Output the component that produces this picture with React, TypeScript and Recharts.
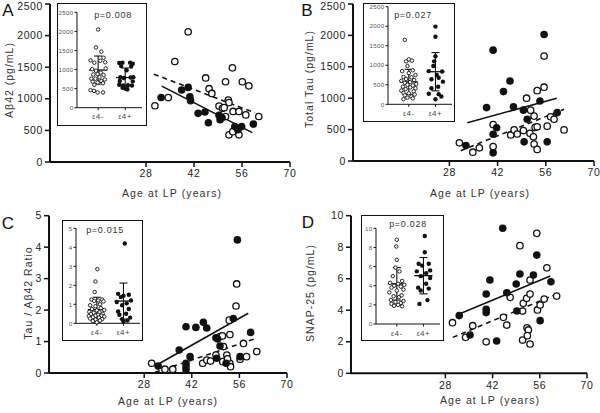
import React from 'react';
import { ScatterChart, Scatter, XAxis, YAxis, ReferenceLine } from 'recharts';

type Pair = [number, number];

const FONT = '"Liberation Sans", Arial, Helvetica, sans-serif';
const INK = '#111';

// ---------- main scatter panels: [age at LP, value] ----------
const ageTicks = [28, 42, 56, 70];

// A: Abeta42 (pg/mL)
const abetaTicks = [0, 500, 1000, 1500, 2000, 2500];
const abetaOpen: Pair[] = [
  [30.6, 890], [34.5, 1020], [36.4, 1590], [40.3, 2060], [45.4, 1330], [46.4, 1160],
  [47.2, 1085], [51.2, 1270], [53.2, 1490], [56.1, 1270], [58.0, 1205], [60.9, 720],
  [49.3, 885], [50.3, 850], [52.0, 980], [52.2, 940], [53.4, 800], [55.1, 800],
  [57.1, 745], [52.2, 430], [55.1, 430], [53.3, 480], [51.2, 720], [50.8, 860],
];
const abetaFilled: Pair[] = [
  [32.4, 1020], [38.4, 1140], [40.3, 1180], [40.8, 1030], [41.0, 970], [43.2, 770],
  [45.2, 790], [46.2, 620], [49.3, 740], [49.6, 670], [50.2, 700], [53.9, 560],
  [54.8, 510], [55.9, 560], [59.3, 600],
];
const abetaSolid: Pair[] = [[32.6, 1200], [59.0, 465]];
const abetaDashed: Pair[] = [[30.3, 1390], [59.8, 777]];

// B: Total Tau (pg/mL)
const tauTicks = [0, 500, 1000, 1500, 2000, 2500];
const tauOpen: Pair[] = [
  [30.9, 290], [34.8, 140], [36.7, 210], [40.7, 580], [40.7, 230], [45.8, 415],
  [46.8, 495], [47.7, 430], [49.5, 485], [50.4, 1000], [51.6, 810], [51.4, 440],
  [52.6, 715], [52.9, 535], [52.4, 385], [52.6, 270], [53.5, 185], [53.5, 1120],
  [53.5, 545], [55.5, 1175], [55.5, 1670], [56.4, 555], [57.4, 705], [58.4, 665],
  [61.3, 495],
];
const tauFilled: Pair[] = [
  [32.8, 245], [38.8, 850], [40.7, 1765], [41.7, 530], [40.7, 425], [40.7, 130],
  [43.7, 1105], [45.6, 1275], [46.6, 865], [49.5, 810], [49.7, 305], [50.6, 665],
  [54.3, 955], [55.5, 2015], [56.4, 305], [59.3, 770],
];
const tauSolid: Pair[] = [[33.2, 610], [59.2, 1000]];
const tauDashed: Pair[] = [[31.3, 165], [61.3, 825]];

// C: Tau / Abeta42 ratio
const ratioTicks = [0, 1, 2, 3, 4, 5];
const ratioOpen: Pair[] = [
  [30.2, 0.31], [34.1, 0.12], [36.4, 0.12], [45.2, 0.31], [46.4, 0.41], [47.5, 0.38],
  [49.1, 0.57], [50.3, 1.16], [51.0, 1.18], [51.3, 0.84], [51.1, 0.36], [52.3, 0.57],
  [53.2, 1.22], [53.0, 1.68], [53.2, 0.31], [53.4, 0.2], [55.0, 2.13], [55.2, 2.83],
  [56.2, 0.44], [57.2, 0.94], [58.1, 0.52], [61.1, 0.68], [52.5, 0.45],
];
const ratioFilled: Pair[] = [
  [32.1, 0.22], [38.3, 0.73], [40.3, 1.47], [41.5, 0.52], [40.3, 0.31], [40.3, 0.2],
  [40.3, 0.1], [43.2, 1.45], [45.4, 1.61], [46.4, 1.43], [49.1, 1.12], [49.6, 1.08],
  [50.3, 0.86], [49.3, 0.47], [54.2, 1.73], [55.4, 4.23], [56.2, 0.52], [59.3, 1.29],
  [52.1, 0.31],
];
const ratioSolid: Pair[] = [[32.6, 0.31], [58.6, 1.9]];
const ratioDashed: Pair[] = [[31.2, 0.02], [60.9, 1.1]];

// D: SNAP-25 (pg/mL)
const snapTicks = [0, 2, 4, 6, 8, 10];
const snapOpen: Pair[] = [
  [30.1, 3.21], [34.0, 2.28], [36.1, 3.02], [40.1, 2.0], [45.2, 3.55], [46.2, 3.06],
  [47.2, 4.82], [50.1, 8.1], [50.9, 3.95], [51.1, 4.44], [50.9, 2.11], [52.1, 4.76],
  [53.1, 5.92], [53.1, 5.03], [52.2, 2.89], [52.6, 2.75], [52.3, 2.39], [53.1, 1.86],
  [55.1, 8.88], [55.3, 4.02], [56.1, 4.33], [57.3, 4.71], [58.1, 6.69], [61.0, 4.9],
];
const snapFilled: Pair[] = [
  [32.1, 3.66], [35.3, 2.43], [41.2, 5.92], [40.1, 5.03], [40.1, 4.06], [40.1, 3.85],
  [43.2, 2.05], [45.0, 9.2], [46.2, 5.11], [49.0, 5.67], [50.1, 6.3], [49.2, 3.95],
  [54.1, 6.24], [55.1, 7.5], [56.1, 3.34], [59.3, 5.81],
];
const snapSolid: Pair[] = [[31.4, 3.7], [59.1, 6.17]];
const snapDashed: Pair[] = [[30.2, 2.28], [60.8, 5.01]];

// ---------- insets: [jitter around group, value], group 1 = e4-, 2 = e4+ ----------
const groups = [1, 2];

const abetaNeg: Pair[] = [
  [0.0, 2050], [-0.08, 1580], [0.12, 1470], [-0.28, 1240], [-0.14, 1180], [0.2, 1310],
  [0.26, 1190], [0.08, 1230], [0.28, 1030], [-0.22, 1010], [-0.08, 970], [0.1, 920],
  [-0.02, 880], [-0.18, 870], [0.2, 860], [0.05, 800], [-0.25, 760], [-0.1, 760],
  [0.25, 740], [0.12, 700], [-0.2, 680], [-0.02, 660], [0.18, 640], [-0.14, 600],
  [-0.28, 460], [-0.15, 440], [-0.02, 400], [0.18, 400],
];
const abetaPos: Pair[] = [
  [-0.22, 1170], [-0.1, 1180], [0.18, 1180], [0.28, 1150], [-0.15, 1090], [0.22, 1080],
  [0.05, 980], [-0.18, 800], [-0.05, 780], [0.2, 790], [0.3, 800], [-0.2, 700],
  [0.28, 690], [-0.22, 600], [-0.08, 580], [0.1, 590], [0.25, 580], [-0.1, 520],
  [0.08, 480], [0.0, 500],
];
const abetaMean = [987, 790];
const abetaSd = [367, 250];

const tauNeg: Pair[] = [
  [-0.15, 1650], [0.0, 1150], [0.12, 1120], [-0.1, 1100], [-0.05, 980], [0.15, 870],
  [-0.25, 850], [0.0, 800], [0.25, 750], [-0.2, 700], [0.1, 690], [-0.1, 650],
  [0.2, 620], [-0.28, 600], [0.05, 570], [-0.15, 550], [0.28, 520], [-0.05, 500],
  [0.15, 480], [-0.22, 450], [0.05, 430], [0.25, 410], [-0.12, 390], [-0.28, 350],
  [0.18, 330], [-0.2, 290], [0.0, 280], [0.22, 250], [-0.15, 230], [0.1, 200],
  [-0.05, 170], [0.15, 150], [-0.2, 130],
];
const tauPos: Pair[] = [
  [0.0, 1990], [0.0, 1730], [0.0, 1230], [-0.05, 1100], [-0.08, 980], [-0.25, 850],
  [0.25, 840], [0.05, 750], [-0.15, 640], [0.12, 680], [0.28, 580], [-0.15, 410],
  [0.1, 450], [-0.25, 270], [0.12, 260], [0.22, 200], [0.0, 130],
];
const tauMean = [575, 835];
const tauSd = [320, 490];

const ratioNeg: Pair[] = [
  [0.02, 2.85], [-0.05, 2.2], [-0.08, 1.65], [-0.2, 1.25], [0.2, 1.25], [0.05, 1.2],
  [-0.1, 1.18], [0.25, 1.15], [0.12, 1.0], [-0.25, 0.95], [-0.05, 0.9], [0.15, 0.8],
  [-0.18, 0.75], [0.28, 0.7], [0.0, 0.68], [-0.28, 0.6], [0.1, 0.58], [-0.12, 0.55],
  [0.22, 0.5], [-0.22, 0.48], [0.05, 0.45], [-0.05, 0.4], [0.18, 0.4], [-0.3, 0.38],
  [0.28, 0.35], [-0.15, 0.32], [0.08, 0.3], [-0.25, 0.25], [0.2, 0.22], [-0.05, 0.2],
  [0.12, 0.15], [-0.15, 0.12], [0.0, 0.05],
];
const ratioPos: Pair[] = [
  [0.05, 4.2], [-0.2, 1.55], [0.2, 1.5], [0.0, 1.45], [-0.1, 1.38], [0.28, 1.2],
  [-0.25, 1.12], [0.12, 1.05], [-0.05, 0.95], [0.2, 0.75], [-0.2, 0.62], [0.1, 0.5],
  [-0.15, 0.45], [0.25, 0.3], [-0.05, 0.22], [0.15, 0.15], [0.0, 0.1],
];
const ratioMean = [0.72, 1.17];
const ratioSd = [0.65, 0.95];

const snapNeg: Pair[] = [
  [0.0, 8.8], [-0.02, 8.1], [0.0, 6.7], [-0.05, 5.9], [0.1, 5.5], [-0.15, 5.0],
  [0.2, 4.5], [-0.25, 4.3], [0.05, 4.2], [0.28, 4.1], [-0.1, 4.0], [0.15, 3.9],
  [-0.2, 3.8], [0.25, 3.6], [0.0, 3.5], [-0.28, 3.3], [0.18, 3.0], [-0.12, 2.9],
  [0.08, 2.8], [-0.22, 2.5], [0.25, 2.4], [-0.05, 2.3], [0.15, 2.2], [-0.2, 2.1],
  [0.05, 2.0], [-0.1, 1.9], [0.2, 1.85],
];
const snapPos: Pair[] = [
  [0.05, 9.2], [0.05, 7.5], [-0.18, 6.3], [0.2, 6.3], [-0.05, 6.1], [0.25, 5.6],
  [-0.25, 5.5], [0.1, 5.3], [-0.1, 5.0], [0.25, 4.8], [0.1, 4.2], [-0.2, 3.8],
  [0.2, 3.7], [-0.1, 3.5], [0.15, 2.5], [-0.15, 2.1],
];
const snapMean = [4.2, 5.05];
const snapSd = [1.7, 1.9];

// ---------- helpers ----------
const toPts = (arr: Pair[], base = 0) => arr.map(([x, y]) => ({ x: base + x, y }));
const seg = (arr: Pair[]) => arr.map(([x, y]) => ({ x, y }));

const ring = (r: number, sw: number) => (p: any) =>
  <circle cx={p.cx} cy={p.cy} r={r} fill="#fff" stroke={INK} strokeWidth={sw} />;
const dot = (r: number) => (p: any) => <circle cx={p.cx} cy={p.cy} r={r} fill={INK} />;

type Box = { left: number; top: number; width: number; height: number };
type Margin = { top: number; right: number; bottom: number; left: number };

// y tick that stays inside the svg for the topmost label
const MainYTick = (props: any) => {
  const { x, y, payload } = props;
  return (
    <text x={x} y={Math.max(y, 6)} dy="0.35em" textAnchor="end" fill="#222" fontFamily={FONT} fontSize={10.5} letterSpacing={0.6}>
      {payload.value}
    </text>
  );
};

interface MainProps {
  box: Box;
  margin: Margin;
  yWidth: number;
  xHeight: number;
  yMax: number;
  yTicks: number[];
  open: Pair[];
  filled: Pair[];
  solid: Pair[];
  dashed: Pair[];
}

const MainPanel = ({ box, margin, yWidth, xHeight, yMax, yTicks, open, filled, solid, dashed }: MainProps) => (
  <div style={{ position: 'absolute', left: box.left, top: box.top }}>
    <ScatterChart width={box.width} height={box.height} margin={margin}>
      <XAxis
        type="number" dataKey="x" domain={[0, 70]} ticks={ageTicks} interval={0} height={xHeight}
        axisLine={{ stroke: INK, strokeWidth: 2 }} tickLine={{ stroke: INK, strokeWidth: 1.5 }}
        tickSize={5} tickMargin={3}
        tick={{ fill: '#222', fontSize: 10.5, fontFamily: FONT, letterSpacing: 0.6 }}
      />
      <YAxis
        type="number" dataKey="y" domain={[0, yMax]} ticks={yTicks} interval={0} width={yWidth}
        axisLine={{ stroke: INK, strokeWidth: 2 }} tickLine={{ stroke: INK, strokeWidth: 1.5 }}
        tickSize={5} tickMargin={2} tick={<MainYTick />}
      />
      <ReferenceLine segment={seg(solid)} stroke={INK} strokeWidth={1.6} ifOverflow="visible" />
      <ReferenceLine segment={seg(dashed)} stroke={INK} strokeWidth={1.6} strokeDasharray="5 4" ifOverflow="visible" />
      <Scatter data={toPts(open)} shape={ring(3.2, 1.3)} isAnimationActive={false} />
      <Scatter data={toPts(filled)} shape={dot(3.8)} isAnimationActive={false} />
    </ScatterChart>
  </div>
);

const GroupTick = (props: any) => {
  const { x, y, payload } = props;
  return (
    <text x={x} y={y + 8} textAnchor="middle" fill="#444" fontFamily={FONT} fontSize={8} letterSpacing={0.5}>
      <tspan fontSize={6.5}>ε</tspan>
      {payload.value === 1 ? '4-' : '4+'}
    </text>
  );
};

interface InsetProps {
  box: Box;
  margin: Margin;
  yWidth: number;
  xHeight: number;
  yMax: number;
  yTicks: number[];
  neg: Pair[];
  pos: Pair[];
  mean: number[];
  sd: number[];
}

const Inset = ({ box, margin, yWidth, xHeight, yMax, yTicks, neg, pos, mean, sd }: InsetProps) => {
  const bars: JSX.Element[] = [];
  groups.forEach((g, i) => {
    const m = mean[i];
    const hi = m + sd[i];
    const lo = m - sd[i];
    bars.push(<ReferenceLine key={`m${i}`} segment={[{ x: g - 0.34, y: m }, { x: g + 0.34, y: m }]} stroke={INK} strokeWidth={1.3} ifOverflow="visible" />);
    bars.push(<ReferenceLine key={`v${i}`} segment={[{ x: g, y: lo }, { x: g, y: hi }]} stroke={INK} strokeWidth={1.1} ifOverflow="visible" />);
    bars.push(<ReferenceLine key={`h${i}`} segment={[{ x: g - 0.15, y: hi }, { x: g + 0.15, y: hi }]} stroke={INK} strokeWidth={1.1} ifOverflow="visible" />);
    bars.push(<ReferenceLine key={`l${i}`} segment={[{ x: g - 0.15, y: lo }, { x: g + 0.15, y: lo }]} stroke={INK} strokeWidth={1.1} ifOverflow="visible" />);
  });
  return (
    <>
      <div style={{ position: 'absolute', left: box.left, top: box.top, width: box.width, height: box.height, background: '#fff' }} />
      <div style={{ position: 'absolute', left: box.left, top: box.top }}>
        <ScatterChart width={box.width} height={box.height} margin={margin}>
          <XAxis
            type="number" dataKey="x" domain={[0.22, 2.62]} ticks={groups} interval={0} height={xHeight}
            axisLine={{ stroke: INK, strokeWidth: 1 }} tickLine={{ stroke: INK, strokeWidth: 1 }}
            tickSize={2.5} tickMargin={1} tick={<GroupTick />}
          />
          <YAxis
            type="number" dataKey="y" domain={[0, yMax]} ticks={yTicks} interval={0} width={yWidth}
            axisLine={{ stroke: INK, strokeWidth: 1 }} tickLine={{ stroke: INK, strokeWidth: 1 }}
            tickSize={2.5} tickMargin={1}
            tick={{ fill: '#555', fontSize: 6.2, fontFamily: FONT, letterSpacing: 0.3 }}
          />
          <Scatter data={toPts(neg, 1)} shape={ring(1.75, 0.9)} isAnimationActive={false} />
          <Scatter data={toPts(pos, 2)} shape={dot(2.2)} isAnimationActive={false} />
          {bars}
        </ScatterChart>
      </div>
      <div style={{ position: 'absolute', left: box.left, top: box.top, width: box.width, height: box.height, boxSizing: 'border-box', border: `1.5px solid ${INK}` }} />
    </>
  );
};

const Txt = ({ x, y, size, children, rotate = false, color = '#333', spacing = 1 }: any) => (
  <div
    style={{
      position: 'absolute', left: x, top: y, transform: `translate(-50%, -50%)${rotate ? ' rotate(-90deg)' : ''}`,
      fontFamily: FONT, fontSize: size, color, letterSpacing: spacing, whiteSpace: 'nowrap', lineHeight: 1,
    }}
  >
    {children}
  </div>
);

export default function App() {
  return (
    <div style={{ position: 'absolute', left: 0, top: 0, width: 600, height: 413, background: '#fff', overflow: 'hidden' }}>
      <MainPanel
        box={{ left: 0, top: 0, width: 300, height: 200 }} margin={{ top: 4, right: 10, bottom: 0, left: 0 }}
        yWidth={50} xHeight={38} yMax={2500} yTicks={abetaTicks}
        open={abetaOpen} filled={abetaFilled} solid={abetaSolid} dashed={abetaDashed}
      />
      <MainPanel
        box={{ left: 300, top: 0, width: 300, height: 200 }} margin={{ top: 4, right: 6, bottom: 0, left: 0 }}
        yWidth={53} xHeight={39} yMax={2500} yTicks={tauTicks}
        open={tauOpen} filled={tauFilled} solid={tauSolid} dashed={tauDashed}
      />
      <MainPanel
        box={{ left: 0, top: 200, width: 300, height: 213 }} margin={{ top: 15.7, right: 13, bottom: 0, left: 0 }}
        yWidth={49} xHeight={40} yMax={5} yTicks={ratioTicks}
        open={ratioOpen} filled={ratioFilled} solid={ratioSolid} dashed={ratioDashed}
      />
      <MainPanel
        box={{ left: 300, top: 200, width: 300, height: 213 }} margin={{ top: 15.7, right: 13, bottom: 0, left: 0 }}
        yWidth={51} xHeight={39.7} yMax={10} yTicks={snapTicks}
        open={snapOpen} filled={snapFilled} solid={snapSolid} dashed={snapDashed}
      />

      <Inset
        box={{ left: 57, top: 3, width: 90, height: 123 }} margin={{ top: 9.3, right: 5, bottom: 0, left: 0 }}
        yWidth={20} xHeight={18.3} yMax={2500} yTicks={abetaTicks}
        neg={abetaNeg} pos={abetaPos} mean={abetaMean} sd={abetaSd}
      />
      <Inset
        box={{ left: 363, top: 3, width: 92, height: 119 }} margin={{ top: 3.7, right: 3, bottom: 0, left: 0 }}
        yWidth={25} xHeight={17.7} yMax={2500} yTicks={tauTicks}
        neg={tauNeg} pos={tauPos} mean={tauMean} sd={tauSd}
      />
      <Inset
        box={{ left: 62, top: 220, width: 81, height: 121 }} margin={{ top: 8.3, right: 3, bottom: 0, left: 0 }}
        yWidth={14} xHeight={17.7} yMax={5} yTicks={ratioTicks}
        neg={ratioNeg} pos={ratioPos} mean={ratioMean} sd={ratioSd}
      />
      <Inset
        box={{ left: 361, top: 215, width: 83, height: 126 }} margin={{ top: 13.3, right: 4, bottom: 0, left: 0 }}
        yWidth={15} xHeight={17} yMax={10} yTicks={snapTicks}
        neg={snapNeg} pos={snapPos} mean={snapMean} sd={snapSd}
      />

      <Txt x={113} y={15} size={9} spacing={0.7}>p=0.008</Txt>
      <Txt x={413} y={15} size={9} spacing={0.7}>p=0.027</Txt>
      <Txt x={105} y={230} size={9} spacing={0.7}>p=0.015</Txt>
      <Txt x={408} y={224} size={9} spacing={0.7}>p=0.028</Txt>

      <Txt x={8} y={10} size={17} color="#111" spacing={0}>A</Txt>
      <Txt x={307} y={10} size={17} color="#111" spacing={0}>B</Txt>
      <Txt x={8} y={223} size={17} color="#111" spacing={0}>C</Txt>
      <Txt x={308} y={222} size={17} color="#111" spacing={0}>D</Txt>

      <Txt x={9} y={80} size={10.5} rotate>Aβ42 (pg/mL)</Txt>
      <Txt x={309} y={79} size={10.5} rotate>Total Tau (pg/mL)</Txt>
      <Txt x={28} y={293} size={10.5} rotate>Tau / Aβ42 Ratio</Txt>
      <Txt x={310} y={293} size={10.5} rotate>SNAP-25 (pg/mL)</Txt>

      <Txt x={172} y={193} size={10.5} spacing={1.1}>Age at LP (years)</Txt>
      <Txt x={480} y={193} size={10.5} spacing={1.1}>Age at LP (years)</Txt>
      <Txt x={168} y={401} size={10.5} spacing={1.1}>Age at LP (years)</Txt>
      <Txt x={490} y={400} size={10.5} spacing={1.1}>Age at LP (years)</Txt>
    </div>
  );
}
